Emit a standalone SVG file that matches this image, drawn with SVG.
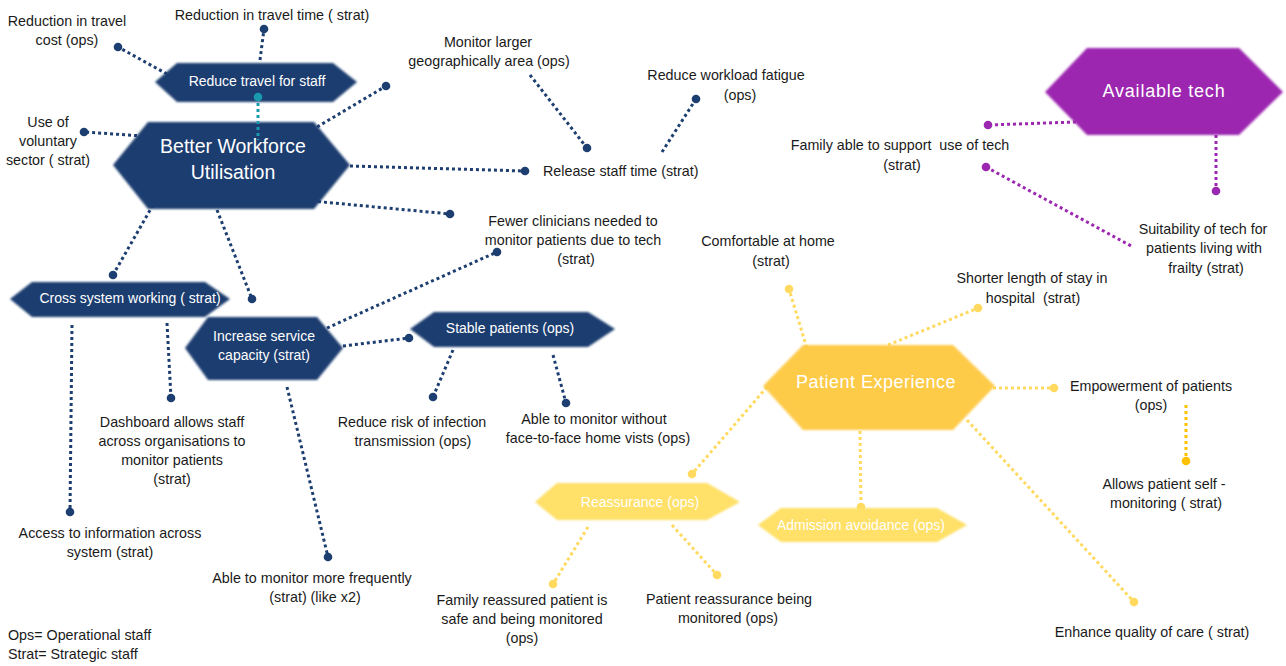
<svg xmlns="http://www.w3.org/2000/svg" width="1286" height="666" viewBox="0 0 1286 666">
  <defs>
    <filter id="soft" x="-10%" y="-20%" width="120%" height="140%">
      <feGaussianBlur stdDeviation="1.3"/>
    </filter>
  </defs>
  <style>
    .lbl { font-family: "Liberation Sans", Arial, sans-serif; font-size: 14.3px; fill: #1a1a1a; text-anchor: middle; }
    .hx { font-family: "Liberation Sans", Arial, sans-serif; fill: #ffffff; text-anchor: middle; }
    .navy { fill: #1d3e70; }
    .purple { fill: #9c27b0; }
    .amber { fill: #fecb4a; }
    .pale { fill: #ffe067; }
    .c-navy { stroke: #1d3e70; }
    .c-purple { stroke: #9c27b0; }
    .c-yel { stroke: #ffda5f; }
    .c-gold { stroke: #ffc000; }
    #connectors line { stroke-width: 3; stroke-dasharray: 3 3; fill: none; }
    .d-navy { fill: #1d3e70; }
    .d-purple { fill: #9c27b0; }
    .d-yel { fill: #ffda5f; }
    .d-gold { fill: #ffc000; }
    .d-teal { fill: #1a9aae; }
  </style>

  <rect width="1286" height="666" fill="#ffffff"/>

  <!-- connectors -->
  <g id="connectors">
    <!-- workforce branch -->
    <line class="c-navy" x1="167" y1="74" x2="118" y2="47"/>
    <line class="c-navy" x1="260" y1="60" x2="264" y2="29"/>
    <line class="c-navy" x1="143" y1="136" x2="84" y2="132"/>
    <line class="c-navy" x1="312" y1="130" x2="386" y2="86"/>
    <line class="c-navy" x1="350" y1="166" x2="525" y2="171"/>
    <line class="c-navy" x1="312" y1="201" x2="450" y2="214"/>
    <line class="c-navy" x1="530" y1="75" x2="587" y2="148"/>
    <line class="c-navy" x1="662" y1="152" x2="696" y2="99"/>
    <line class="c-navy" x1="153" y1="205" x2="113" y2="275"/>
    <line class="c-navy" x1="217" y1="210" x2="252" y2="299"/>
    <line class="c-navy" x1="72" y1="325" x2="70" y2="512"/>
    <line class="c-navy" x1="167" y1="323" x2="171" y2="398"/>
    <line class="c-navy" x1="327" y1="328" x2="497" y2="252"/>
    <line class="c-navy" x1="343" y1="346" x2="409" y2="338"/>
    <line class="c-navy" x1="287" y1="387" x2="328" y2="557"/>
    <line class="c-navy" x1="453" y1="350" x2="433" y2="397"/>
    <line class="c-navy" x1="553" y1="355" x2="566" y2="403"/>
    <!-- tech branch -->
    <line class="c-purple" x1="1076" y1="122" x2="988" y2="125"/>
    <line class="c-purple" x1="1216" y1="135" x2="1216" y2="191"/>
    <line class="c-purple" x1="986" y1="167" x2="1133" y2="247"/>
    <!-- patient experience branch -->
    <line class="c-yel" x1="812" y1="365" x2="789" y2="289"/>
    <line class="c-yel" x1="888" y1="345" x2="978" y2="308"/>
    <line class="c-yel" x1="975" y1="388" x2="1054" y2="388"/>
    <line class="c-yel" x1="967" y1="420" x2="1134" y2="602"/>
    <line class="c-yel" x1="860" y1="431" x2="861" y2="507"/>
    <line class="c-yel" x1="767" y1="387" x2="692" y2="474"/>
    <line class="c-yel" x1="588" y1="527" x2="553" y2="584"/>
    <line class="c-yel" x1="672" y1="525" x2="717" y2="575"/>
    <line class="c-gold" x1="1186" y1="405" x2="1186" y2="461"/>

    <!-- end dots -->
    <g class="d-navy">
      <circle cx="118" cy="47" r="4.3"/>
      <circle cx="264" cy="29" r="4.3"/>
      <circle cx="84" cy="132" r="4.3"/>
      <circle cx="386" cy="86" r="4.3"/>
      <circle cx="525" cy="171" r="4.3"/>
      <circle cx="450" cy="214" r="4.3"/>
      <circle cx="587" cy="148" r="4.3"/>
      <circle cx="696" cy="99" r="4.3"/>
      <circle cx="113" cy="275" r="4.3"/>
      <circle cx="252" cy="299" r="4.3"/>
      <circle cx="70" cy="512" r="4.3"/>
      <circle cx="171" cy="398" r="4.3"/>
      <circle cx="497" cy="252" r="4.3"/>
      <circle cx="409" cy="338" r="4.3"/>
      <circle cx="328" cy="557" r="4.3"/>
      <circle cx="433" cy="397" r="4.3"/>
      <circle cx="566" cy="403" r="4.3"/>
    </g>
    <g class="d-purple">
      <circle cx="988" cy="125" r="4.3"/>
      <circle cx="1216" cy="191" r="4.3"/>
      <circle cx="986" cy="167" r="4.3"/>
    </g>
    <g class="d-yel">
      <circle cx="789" cy="289" r="4.3"/>
      <circle cx="978" cy="308" r="4.3"/>
      <circle cx="1054" cy="388" r="4.3"/>
      <circle cx="1134" cy="602" r="4.3"/>
      <circle cx="861" cy="507" r="4.3"/>
      <circle cx="692" cy="474" r="4.3"/>
      <circle cx="553" cy="584" r="4.3"/>
      <circle cx="717" cy="575" r="4.3"/>
    </g>
    <circle class="d-gold" cx="1186" cy="461" r="4.3"/>
  </g>

  <!-- hub: Better Workforce Utilisation -->
  <g id="node-workforce">
    <polygon class="navy" filter="url(#soft)" points="113,165 148,122 314,122 350,165 314,209 148,209"/>
    <text class="hx" x="233" y="153" font-size="19.5">Better Workforce</text>
    <text class="hx" x="233" y="179" font-size="19.5">Utilisation</text>
  </g>

  <g id="node-travel">
    <polygon class="navy" filter="url(#soft)" points="155,82 177,63 333,63 357,82 333,102 177,102"/>
    <text class="hx" x="257" y="86" font-size="14">Reduce travel for staff</text>
  </g>
  <!-- teal link between travel node and hub, drawn over both -->
  <g id="link-travel-hub">
    <line x1="258" y1="97" x2="258" y2="140" stroke="#1a9aae" stroke-width="3" stroke-dasharray="3 3"/>
    <circle class="d-teal" cx="258" cy="97" r="4.3"/>
  </g>

  <g id="node-cross">
    <polygon class="navy" filter="url(#soft)" points="10,299 32,282 205,282 230,299 205,317 32,317"/>
    <text class="hx" x="130" y="303" font-size="14">Cross system working ( strat)</text>
  </g>

  <g id="node-capacity">
    <polygon class="navy" filter="url(#soft)" points="185,348 208,317 317,317 343,348 317,380 208,380"/>
    <text class="hx" x="264" y="341" font-size="14">Increase service</text>
    <text class="hx" x="264" y="360" font-size="14">capacity (strat)</text>
  </g>

  <g id="node-stable">
    <polygon class="navy" filter="url(#soft)" points="410,329 434,312 588,312 615,329 588,347 434,347"/>
    <text class="hx" x="510" y="333" font-size="14">Stable patients (ops)</text>
  </g>

  <g id="node-tech">
    <polygon class="purple" filter="url(#soft)" points="1045,92 1087,48 1239,48 1283,92 1239,135 1087,135"/>
    <text class="hx" x="1164" y="97" font-size="18" letter-spacing="0.8">Available tech</text>
  </g>

  <g id="node-experience">
    <polygon class="amber" filter="url(#soft)" points="763,386 803,345 953,345 995,386 953,430 803,430"/>
    <text class="hx" x="876" y="388" font-size="18" letter-spacing="0.5">Patient Experience</text>
  </g>

  <g id="node-reassurance">
    <polygon class="pale" filter="url(#soft)" points="535,502 557,483 707,483 740,502 707,520 557,520"/>
    <text class="hx" x="640" y="507" font-size="14">Reassurance (ops)</text>
  </g>

  <g id="node-admission">
    <polygon class="pale" filter="url(#soft)" points="758,525 781,508 937,508 967,525 937,542 781,542"/>
    <text class="hx" x="861" y="530" font-size="14">Admission avoidance (ops)</text>
  </g>

  <!-- outcome labels -->
  <g id="label-travel-cost"><text class="lbl" x="67" y="26">Reduction in travel</text><text class="lbl" x="67" y="45">cost (ops)</text></g>
  <g id="label-travel-time"><text class="lbl" x="272" y="20">Reduction in travel time ( strat)</text></g>
  <g id="label-voluntary"><text class="lbl" x="48" y="127">Use of</text><text class="lbl" x="48" y="146">voluntary</text><text class="lbl" x="48" y="165">sector ( strat)</text></g>
  <g id="label-geo"><text class="lbl" x="488" y="47">Monitor larger</text><text class="lbl" x="489" y="66">geographically area (ops)</text></g>
  <g id="label-fatigue"><text class="lbl" x="726" y="80">Reduce workload fatigue</text><text class="lbl" x="740" y="100">(ops)</text></g>
  <g id="label-release"><text class="lbl" x="543" y="176" style="text-anchor:start">Release staff time (strat)</text></g>
  <g id="label-fewer"><text class="lbl" x="573" y="226">Fewer clinicians needed to</text><text class="lbl" x="573" y="245">monitor patients due to tech</text><text class="lbl" x="576" y="264">(strat)</text></g>
  <g id="label-dashboard"><text class="lbl" x="172" y="427">Dashboard allows staff</text><text class="lbl" x="172" y="446">across organisations to</text><text class="lbl" x="172" y="465">monitor patients</text><text class="lbl" x="172" y="484">(strat)</text></g>
  <g id="label-access"><text class="lbl" x="110" y="538">Access to information across</text><text class="lbl" x="110" y="557">system (strat)</text></g>
  <g id="label-frequency"><text class="lbl" x="312" y="583">Able to monitor more frequently</text><text class="lbl" x="315" y="602">(strat) (like x2)</text></g>
  <g id="label-infection"><text class="lbl" x="412" y="427">Reduce risk of infection</text><text class="lbl" x="413" y="446">transmission (ops)</text></g>
  <g id="label-no-visits"><text class="lbl" x="594" y="424">Able to monitor without</text><text class="lbl" x="598" y="443">face-to-face home vists (ops)</text></g>
  <g id="label-family-tech"><text class="lbl" x="900" y="150">Family able to support&#160; use of tech</text><text class="lbl" x="902" y="170">(strat)</text></g>
  <g id="label-suitability"><text class="lbl" x="1203" y="234">Suitability of tech for</text><text class="lbl" x="1204" y="253">patients living with</text><text class="lbl" x="1206" y="273">frailty (strat)</text></g>
  <g id="label-comfortable"><text class="lbl" x="768" y="246">Comfortable at home</text><text class="lbl" x="771" y="266">(strat)</text></g>
  <g id="label-stay"><text class="lbl" x="1032" y="283">Shorter length of stay in</text><text class="lbl" x="1033" y="303">hospital&#160; (strat)</text></g>
  <g id="label-empower"><text class="lbl" x="1151" y="391">Empowerment of patients</text><text class="lbl" x="1151" y="410">(ops)</text></g>
  <g id="label-self"><text class="lbl" x="1164" y="489">Allows patient self -</text><text class="lbl" x="1166" y="508">monitoring ( strat)</text></g>
  <g id="label-quality"><text class="lbl" x="1152" y="637">Enhance quality of care ( strat)</text></g>
  <g id="label-family-safe"><text class="lbl" x="522" y="605">Family reassured patient is</text><text class="lbl" x="522" y="624">safe and being monitored</text><text class="lbl" x="522" y="643">(ops)</text></g>
  <g id="label-patient-reassure"><text class="lbl" x="729" y="604">Patient reassurance being</text><text class="lbl" x="728" y="623">monitored (ops)</text></g>

  <!-- key -->
  <g id="key">
    <text class="lbl" x="8" y="640" style="text-anchor:start">Ops= Operational staff</text>
    <text class="lbl" x="8" y="659" style="text-anchor:start">Strat= Strategic staff</text>
  </g>
</svg>
